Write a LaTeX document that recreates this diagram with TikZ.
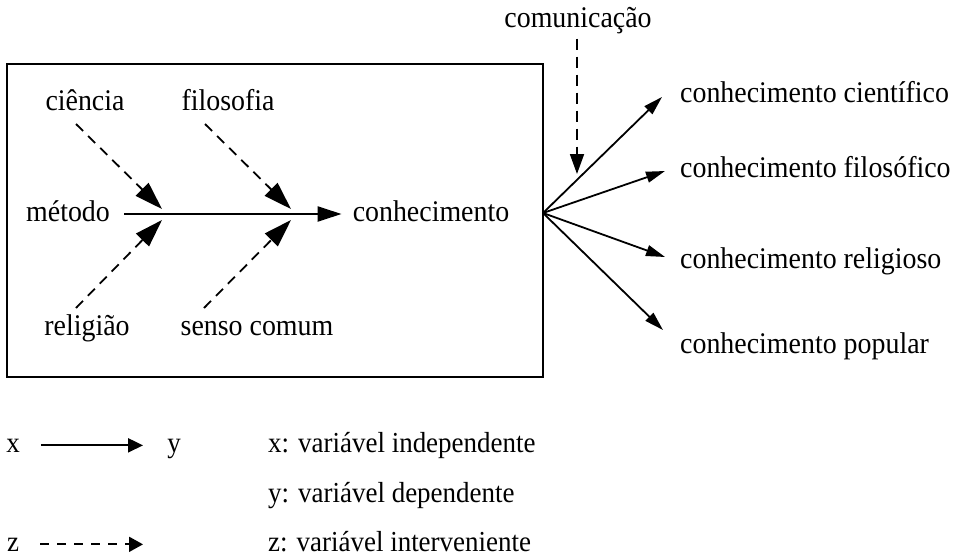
\documentclass[tikz,border=0pt]{standalone}
\usepackage{fontspec}
\setmainfont{Liberation Serif}[FakeStretch=0.93]
\usetikzlibrary{arrows.meta}
\begin{document}
\begin{tikzpicture}[x=1pt,y=-1pt,
  every node/.style={inner sep=0pt,anchor=base,font=\fontsize{30}{34}\selectfont},
  lbl/.style={anchor=base west},
  leg/.style={font=\fontsize{29}{33}\selectfont},
  cause/.style={black,line width=1.8pt,dash pattern=on 10pt off 7pt,-{Triangle[length=28pt,width=18pt]}},
  mainarr/.style={black,line width=2.2pt,-{Triangle[length=24pt,width=15pt]}},
  fan/.style={black,line width=1.8pt,-{Triangle[length=19pt,width=11pt]}}]
\useasboundingbox (0,0) rectangle (961,557);
\draw [black,line width=2pt] (7,64) rectangle (543,377);
% causes
\node (cien) at (85,110) {ciência};
\node (filo) at (228,110) {filosofia};
\node (met) at (68,221) {método};
\node (conh) at (431,221) {conhecimento};
\node (reli) at (87,335) {religião};
\node (senso) at (257,335) {senso comum};
\coordinate (ml) at (0,214);
\coordinate (c1) at (76,124);
\coordinate (c2) at (205,124);
\coordinate (c3) at (76,308);
\coordinate (c4) at (204,308);
\coordinate (t1) at (162,209);
\coordinate (t2) at (291,209);
\coordinate (t3) at (162,220);
\coordinate (t4) at (291,220);
\draw [mainarr,shorten <=14pt,shorten >=11pt] (met.east |- ml) -- (conh.west |- ml);
\draw [cause] (c1) -- (t1);
\draw [cause] (c2) -- (t2);
\draw [cause] (c3) -- (t3);
\draw [cause] (c4) -- (t4);
% results
\node (com) at (578,27) {comunicação};
\coordinate (fo) at (543,213);
\coordinate (tcm) at (577,174);
\draw [cause,dash pattern=on 11pt off 7pt,-{Triangle[length=20pt,width=14pt]},shorten <=5pt] (com.south -| tcm) -- (tcm);
\node [lbl] (kc) at (680,102) {conhecimento científico};
\node [lbl] (kf) at (680,177) {conhecimento filosófico};
\node [lbl] (kr) at (680,268) {conhecimento religioso};
\node [lbl] (kp) at (680,353) {conhecimento popular};
\coordinate (fc) at (662,97);
\coordinate (ff) at (665,171);
\coordinate (fr) at (665,257);
\coordinate (fp) at (663,330);
\draw [fan] (fo) -- (fc);
\draw [fan] (fo) -- (ff);
\draw [fan] (fo) -- (fr);
\draw [fan] (fo) -- (fp);
% legend
\node [leg] (x) at (13,452) {x};
\node [leg] (y) at (174,452) {y};
\node [leg] (z) at (13,551) {z};
\coordinate (zend) at (143,545);
\draw [black,line width=2pt,-{Triangle[length=15pt,width=14pt]},shorten <=21pt,shorten >=24pt] (x.east) -- (x.east -| y.west);
\draw [black,line width=1.8pt,dash pattern=on 9pt off 8pt,-{Triangle[length=14pt,width=15pt]},shorten <=21pt] (z.east) -- (z.east -| zend);
\node [leg,lbl] (lx) at (268,452) {x: variável independente};
\node [leg,lbl] (ly) at (268,502) {y: variável dependente};
\node [leg,lbl] (lz) at (268,551) {z: variável interveniente};
\end{tikzpicture}
\end{document}
